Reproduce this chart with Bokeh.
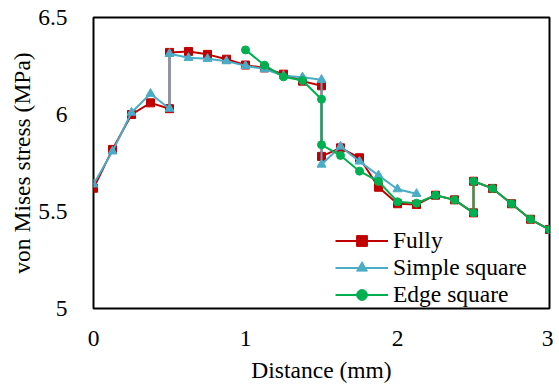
from bokeh.plotting import figure
from bokeh.models import FixedTicker, CustomJSTickFormatter, Legend, LegendItem, Range1d
from bokeh.embed import file_html
from bokeh.resources import INLINE

# Data
fully_x = [0, 0.125, 0.25, 0.375, 0.5, 0.5, 0.625, 0.75, 0.875, 1.0, 1.125, 1.25, 1.375, 1.5, 1.5,
           1.625, 1.75, 1.875, 2.0, 2.125, 2.25, 2.375, 2.5, 2.5, 2.625, 2.75, 2.875, 3.0]
fully_y = [5.62, 5.82, 6.00, 6.06, 6.03, 6.32, 6.325, 6.31, 6.285, 6.255, 6.24, 6.208, 6.172, 6.148, 5.784,
           5.828, 5.777, 5.625, 5.540, 5.536, 5.584, 5.560, 5.493, 5.656, 5.619, 5.540, 5.460, 5.407]

simple_x = [0, 0.125, 0.25, 0.375, 0.5, 0.5, 0.625, 0.75, 0.875, 1.0, 1.125, 1.25, 1.375, 1.5, 1.5,
            1.625, 1.75, 1.875, 2.0, 2.125]
simple_y = [5.64, 5.81, 6.01, 6.107, 6.03, 6.313, 6.292, 6.287, 6.275, 6.251, 6.234, 6.20, 6.192, 6.179, 5.742,
            5.835, 5.758, 5.686, 5.615, 5.591]

edge_x = [1.0, 1.125, 1.25, 1.375, 1.5, 1.5, 1.625, 1.75, 1.875, 2.0, 2.125, 2.25, 2.375, 2.5, 2.5,
          2.625, 2.75, 2.875, 3.0]
edge_y = [6.333, 6.254, 6.194, 6.175, 6.079, 5.844, 5.789, 5.708, 5.655, 5.550, 5.543, 5.584, 5.560, 5.493, 5.656,
          5.619, 5.540, 5.460, 5.407]

x_ticks = [0, 1, 2, 3]
y_ticks = [5, 5.5, 6, 6.5]

RED = "#C00000"
BLUE = "#4BACC6"
GREEN = "#00B050"
FONT = "Liberation Serif"
FS = "23.5px"

p = figure(width=553, height=385, output_backend="svg", toolbar_location=None,
           x_range=Range1d(0, 3), y_range=Range1d(5, 6.5),
           min_border_left=93, min_border_right=4, min_border_top=17, min_border_bottom=77)
p.xgrid.visible = False
p.ygrid.visible = False
p.outline_line_color = "black"
p.outline_line_width = 2
p.outline_line_alpha = 1

for ax in (p.xaxis[0], p.yaxis[0]):
    ax.axis_line_color = None
    ax.major_tick_line_color = None
    ax.minor_tick_line_color = None
    ax.major_label_text_font = FONT
    ax.major_label_text_font_size = FS
    ax.major_label_text_color = "black"
    ax.axis_label_text_font = FONT
    ax.axis_label_text_font_size = FS
    ax.axis_label_text_font_style = "normal"
    ax.axis_label_text_color = "black"
    ax.formatter = CustomJSTickFormatter(code="return tick.toString();")

p.xaxis[0].ticker = FixedTicker(ticks=x_ticks)
p.yaxis[0].ticker = FixedTicker(ticks=y_ticks)
p.xaxis[0].axis_label = "Distance (mm)"
p.yaxis[0].axis_label = "von Mises stress (MPa)"
p.xaxis[0].major_label_standoff = 16
p.xaxis[0].axis_label_standoff = 8
p.yaxis[0].major_label_standoff = 20
p.yaxis[0].axis_label_standoff = 0

l1 = p.line(fully_x, fully_y, line_color=RED, line_width=2)
m1 = p.scatter(fully_x, fully_y, marker="square", size=8, fill_color=RED, line_color=RED)
l2 = p.line(simple_x, simple_y, line_color=BLUE, line_width=2)
m2 = p.scatter(simple_x, simple_y, marker="triangle", size=9, fill_color=BLUE, line_color=BLUE)
l3 = p.line(edge_x, edge_y, line_color=GREEN, line_width=2)
m3 = p.scatter(edge_x, edge_y, marker="circle", size=8, fill_color=GREEN, line_color=GREEN)

legend = Legend(items=[
    LegendItem(label="Fully", renderers=[l1, m1]),
    LegendItem(label="Simple square", renderers=[l2, m2]),
    LegendItem(label="Edge square", renderers=[l3, m3]),
], location=(242, 0))
legend.border_line_color = None
legend.background_fill_alpha = 0
legend.padding = 2
legend.margin = 0
legend.spacing = 0
legend.glyph_width = 53
legend.glyph_height = 27
legend.label_height = 27
legend.label_standoff = 5
legend.label_text_font = FONT
legend.label_text_font_size = FS
legend.label_text_color = "black"
p.add_layout(legend, "center")

open("out.html", "w").write(file_html(p, INLINE))
